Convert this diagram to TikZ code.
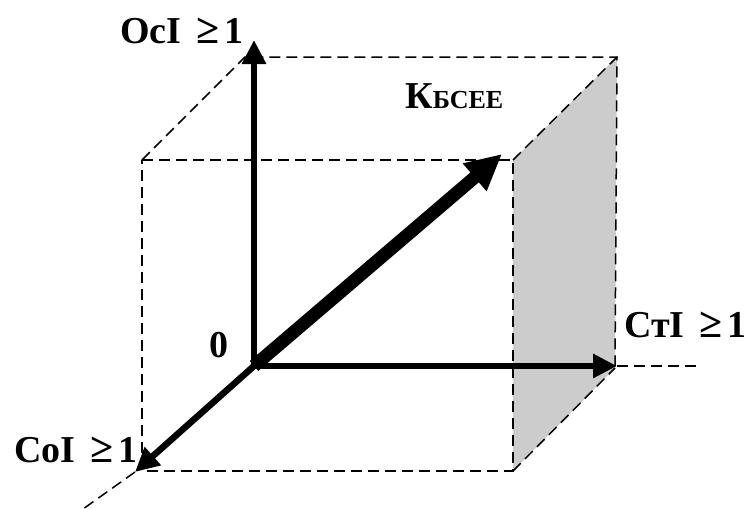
\documentclass[tikz,border=0pt]{standalone}
\usepackage{fontspec}
\setmainfont{Liberation Serif}
\usetikzlibrary{arrows.meta}
\definecolor{facegray}{RGB}{204,204,204}
\newcommand{\geqsym}{\hspace{0.4em}{\fontsize{42}{44}\selectfont ≥}\hspace{0.12em}}
\begin{document}
\begin{tikzpicture}[x=1pt,y=-1pt,
  cubeline/.style={dash pattern=on 11pt off 6pt, line width=1.5pt},
  axis/.style={line width=6.5pt, -{Triangle[length=24pt,width=23pt]}},
  mainvec/.style={line width=13pt, -{Triangle[length=36pt,width=34pt]}},
  lbl/.style={font=\bfseries\fontsize{38}{44}\selectfont, inner sep=0pt, anchor=base west}]
\useasboundingbox (0,0) rectangle (748,509);
% cube corners
\coordinate (ftl) at (142,160);
\coordinate (ftr) at (513,160);
\coordinate (fbr) at (513,471);
\coordinate (fbl) at (142,471);
\coordinate (btl) at (245,57);
\coordinate (btr) at (617,57);
\coordinate (bbr) at (615,368);
\coordinate (O) at (254,366);
\coordinate (ytip) at (254,40);
\coordinate (xtip) at (617,366);
\coordinate (xend) at (702,366);
\coordinate (ztip) at (135,472);
\coordinate (zend) at (83,509);
\coordinate (vtip) at (502,154);
% gray face
\fill[facegray] (ftr) -- (btr) -- (bbr) -- (fbr) -- cycle;
% dashed edges
\draw[cubeline] (ftl) -- (ftr) -- (fbr) -- (fbl) -- cycle;
\draw[cubeline] (ftl) -- (btl) -- (btr) -- (bbr);
\draw[cubeline] (ftr) -- (btr);
\draw[cubeline] (fbr) -- (bbr);
\draw[cubeline] (xtip) -- (xend);
\draw[cubeline] (ztip) -- (zend);
% axes
\draw[axis] (O) -- (ytip);
\draw[axis] (O) -- (xtip);
\draw[axis] (O) -- (ztip);
\draw[mainvec] (O) -- (vtip);
% labels
\node[lbl] (ly) at (120,43) {ОсI\geqsym 1};
\node[lbl] (lx) at (624,337) {СтI\geqsym 1};
\node[lbl] (lz) at (14,462) {СоI\geqsym 1};
\node[lbl] (lk) at (405,108) {К{\fontsize{26}{30}\selectfont БСЕЕ}};
\node[lbl, anchor=base] (l0) at (219,357) {0};
\end{tikzpicture}
\end{document}
